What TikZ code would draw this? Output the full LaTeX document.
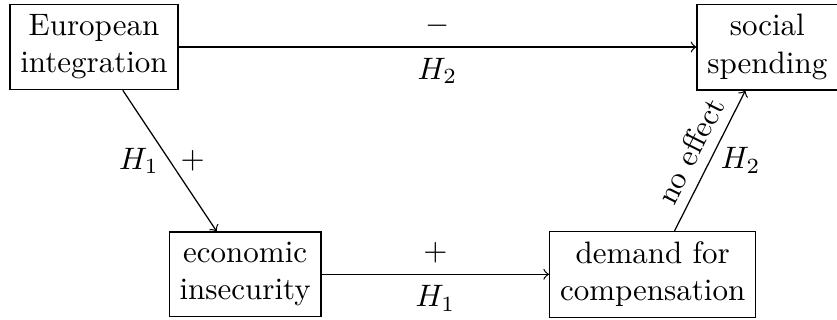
\documentclass[tikz,border=0pt]{standalone}
\usepackage{amsmath}
\usetikzlibrary{positioning}

\begin{document}
\begin{tikzpicture}[
    factor/.style={rectangle, draw, align=center},
    arr/.style={->}
]
    \useasboundingbox (0,0) rectangle (9.49,-3.628);

    \node[factor] (integ) at (1.066,-0.533) {European\\integration};
    \node[factor] (spend) at (8.70,-0.533) {social\\spending};
    \node[factor] (insec) at (2.78,-3.11) {economic\\insecurity};
    \node[factor] (comp) at (7.40,-3.11) {demand for\\compensation};

    \draw[arr] (integ) -- node[above] {$-$} node[below] {$H_2$} (spend);
    \draw[arr] (integ) -- node[left] {$H_1$} node[right] {$+$} (insec);
    \draw[arr] (insec) -- node[above] {$+$} node[below] {$H_1$} (comp);
    \draw[arr] (comp) -- node[above, sloped] {no effect} node[right] {$H_2$} (spend);
\end{tikzpicture}
\end{document}
